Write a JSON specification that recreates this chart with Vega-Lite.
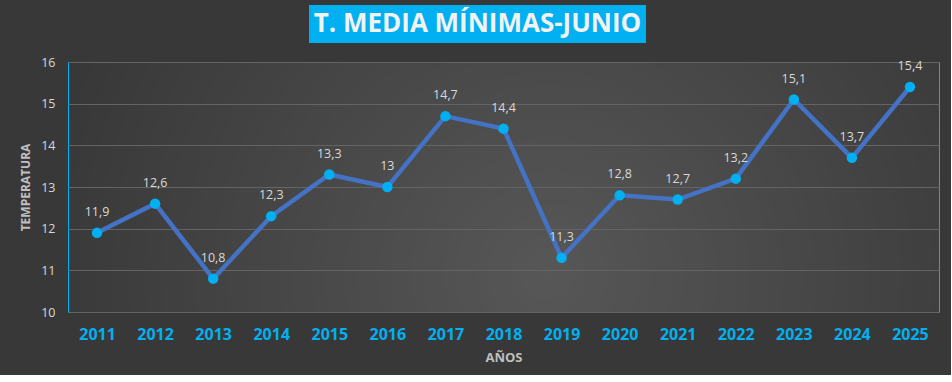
{
  "$schema": "https://vega.github.io/schema/vega-lite/v6.json",
  "background": "#383838",
  "padding": {"left": 19, "top": 5, "right": 11, "bottom": 10},
  "config": {
    "font": "Open Sans",
    "locale": {"number": {"decimal": ",", "thousands": ".", "grouping": [3], "currency": ["", " €"]}},
    "view": {"stroke": null}
  },
  "spacing": 12,
  "vconcat": [
    {
      "width": 578,
      "height": 38,
      "data": {"values": [{"t": "T. MEDIA MÍNIMAS-JUNIO"}]},
      "layer": [
        {
          "mark": {"type": "bar", "color": "#00B0F0"},
          "encoding": {
            "x": {"field": "t", "type": "nominal", "axis": null, "scale": {"paddingInner": 0, "paddingOuter": 0.3576, "align": 1}}
          }
        },
        {
          "mark": {"type": "text", "color": "#F2F2F2", "fontSize": 26, "fontWeight": "bold", "font": "Open Sans"},
          "encoding": {
            "x": {"field": "t", "type": "nominal", "axis": null, "scale": {"paddingInner": 0, "paddingOuter": 0.3576, "align": 1}},
            "text": {"field": "t"}
          }
        }
      ]
    },
    {
      "width": 871,
      "height": 250,
      "view": {
        "stroke": "#00B0F0",
        "strokeWidth": 1,
        "fill": {
          "gradient": "radial",
          "x1": 0.55, "y1": 0.6, "r1": 0,
          "x2": 0.55, "y2": 0.6, "r2": 0.75,
          "stops": [{"offset": 0, "color": "#575757"}, {"offset": 1, "color": "#2f2f2f"}]
        }
      },
      "data": {
        "values": [
          {"year": "2011", "v": 11.9},
          {"year": "2012", "v": 12.6},
          {"year": "2013", "v": 10.8},
          {"year": "2014", "v": 12.3},
          {"year": "2015", "v": 13.3},
          {"year": "2016", "v": 13.0},
          {"year": "2017", "v": 14.7},
          {"year": "2018", "v": 14.4},
          {"year": "2019", "v": 11.3},
          {"year": "2020", "v": 12.8},
          {"year": "2021", "v": 12.7},
          {"year": "2022", "v": 13.2},
          {"year": "2023", "v": 15.1},
          {"year": "2024", "v": 13.7},
          {"year": "2025", "v": 15.4}
        ]
      },
      "encoding": {
        "x": {
          "field": "year", "type": "ordinal",
          "scale": {"type": "point", "padding": 0.5},
          "axis": {
            "title": "AÑOS", "titleColor": "#BFBFBF", "titleFontSize": 13, "titleFontWeight": "bold", "titlePadding": 9,
            "labelColor": "#00B0F0", "labelFontSize": 16, "labelFontWeight": "bold", "labelAngle": 0, "labelPadding": 14,
            "domain": false, "ticks": false, "grid": false
          }
        },
        "y": {
          "field": "v", "type": "quantitative",
          "scale": {"domain": [10, 16], "nice": false, "zero": false},
          "axis": {
            "title": "TEMPERATURA", "titleColor": "#BFBFBF", "titleFontSize": 12, "titleFontWeight": "bold", "titlePadding": 8,
            "labelColor": "#D9D9D9", "labelFontSize": 12.5, "labelPadding": 13,
            "values": [10, 11, 12, 13, 14, 15, 16],
            "domain": false, "ticks": false, "grid": true, "gridColor": "#646464", "gridWidth": 1
          }
        }
      },
      "layer": [
        {"mark": {"type": "line", "color": "#4472C4", "strokeWidth": 4.5}},
        {"mark": {"type": "point", "filled": true, "color": "#00B0F0", "size": 110, "opacity": 1}},
        {
          "mark": {"type": "text", "color": "#D9D9D9", "fontSize": 12.5, "baseline": "alphabetic", "dy": -17},
          "encoding": {"text": {"field": "v", "type": "quantitative", "format": ".1~f"}}
        }
      ]
    }
  ]
}
